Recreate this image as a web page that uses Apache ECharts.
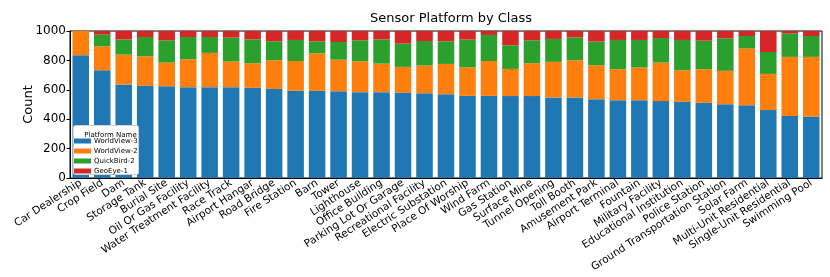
<!DOCTYPE html>
<html><head><meta charset="utf-8">
<script src="https://cdn.jsdelivr.net/npm/echarts@6/dist/echarts.min.js"></script>
<style>html,body{margin:0;padding:0;background:#fff}#c{width:830px;height:277px}</style>
</head><body><div id="c"></div>
<script>
const categories = ["Car Dealership","Crop Field","Dam","Storage Tank","Burial Site","Oil Or Gas Facility","Water Treatment Facility","Race Track","Airport Hangar","Road Bridge","Fire Station","Barn","Tower","Lighthouse","Office Building","Parking Lot Or Garage","Recreational Facility","Electric Substation","Place Of Worship","Wind Farm","Gas Station","Surface Mine","Tunnel Opening","Toll Booth","Amusement Park","Airport Terminal","Fountain","Military Facility","Educational Institution","Police Station","Ground Transportation Station","Solar Farm","Multi-Unit Residential","Single-Unit Residential","Swimming Pool"];
const worldView3 = [835,733,636,627,624,618,618,618,613,606,593,593,590,584,584,581,577,570,559,559,557,557,548,548,536,529,529,523,518,511,502,495,462,421,419];
const worldView2 = [165,163,203,201,161,190,233,174,168,195,203,255,215,210,194,175,188,206,194,237,185,224,242,253,231,211,222,262,215,229,227,387,246,403,405];
const quickBird2 = [0,79,104,131,152,151,108,163,162,129,143,82,120,143,165,158,167,154,188,177,161,156,156,156,161,199,188,167,206,194,221,84,149,158,142];
const geoEye1 = [0,25,57,41,63,41,41,45,57,70,61,70,75,63,57,86,68,70,59,27,97,63,54,43,72,61,61,48,61,66,50,34,143,18,34];
const seriesNames = ["WorldView-3","WorldView-2","QuickBird-2","GeoEye-1"];
const seriesData = [worldView3, worldView2, quickBird2, geoEye1];
const colors = ["#1f77b4","#ff7f0e","#2ca02c","#d62728"];
const yTicks = [0,200,400,600,800,1000];

const font = "DejaVu Sans";
const chart = echarts.init(document.getElementById('c'), null, {renderer:'canvas'});
chart.setOption({
  animation:false,
  textStyle:{fontFamily:font},
  title:[
    {text:"Sensor Platform by Class", left:446, top:7, textAlign:'center', z:10,
     textStyle:{fontFamily:font,fontSize:13,fontWeight:'normal',color:'#000'}},
    {text:"Platform Name", left:105.5, top:127, textAlign:'center', z:100, zlevel:1,
     textStyle:{fontFamily:font,fontSize:7,fontWeight:'normal',color:'#000'}}
  ],
  graphic:[{type:'rect', zlevel:1, z:50, shape:{x:73.5,y:125.5,width:65,height:49,r:2},
    style:{fill:'#fff',stroke:'#d0d0d0',lineWidth:1}}],
  legend:{orient:'vertical', left:74, top:137, itemGap:2, itemWidth:17, itemHeight:5,
    icon:'rect', zlevel:1, z:100, data:seriesNames, padding:0,
    textStyle:{fontFamily:font,fontSize:7,lineHeight:8,height:8,color:'#000',padding:[0,0,0,-2]}},
  grid:{left:70, right:8, top:31, bottom:99, show:true, borderColor:'#000', borderWidth:1,
    backgroundColor:'transparent', outerBoundsMode:'none', containLabel:false},
  xAxis:{type:'category', data:categories, boundaryGap:true,
    axisLine:{lineStyle:{color:'#000'}},
    axisTick:{alignWithLabel:true, length:3.5, lineStyle:{color:'#000'}},
    axisLabel:{rotate:33, interval:0, fontSize:10.5, color:'#000', fontFamily:font, margin:4}},
  yAxis:{type:'value', min:yTicks[0], max:yTicks[yTicks.length-1], interval:200,
    name:'Count', nameLocation:'middle', nameGap:35, nameRotate:90, nameMoveOverlap:false,
    nameTextStyle:{fontFamily:font,fontSize:13,color:'#000'},
    axisLine:{show:true, lineStyle:{color:'#000'}},
    axisTick:{show:true, length:3.5, lineStyle:{color:'#000'}},
    splitLine:{show:false},
    axisLabel:{fontSize:12, color:'#000', fontFamily:font, margin:4, formatter:v=>String(v)}},
  series: seriesNames.map((n,i)=>({
    name:n, type:'bar', stack:'total', data:seriesData[i],
    barCategoryGap:'23%', itemStyle:{color:colors[i]}
  }))
});
</script></body></html>
